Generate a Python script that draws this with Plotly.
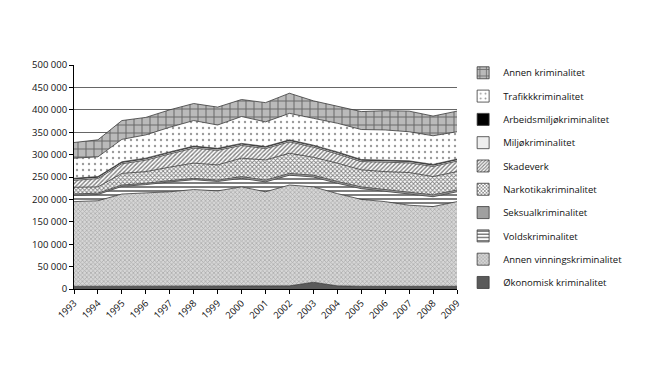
import plotly.graph_objects as go

years = list(range(1993, 2010))

okonomisk = [6000, 6000, 6000, 6000, 6000, 6000, 6000, 6000, 6000, 7000, 15000, 7000, 6000, 6000, 6000, 6000, 6000]
annen_vinning = [189000, 191000, 206000, 208000, 211000, 216000, 213000, 222000, 211000, 225000, 213000, 206000, 194000, 189000, 181000, 178000, 189000]
volds = [14000, 14000, 17000, 19000, 22000, 22000, 21000, 19000, 22000, 22000, 22000, 23000, 24000, 23000, 26000, 22000, 22000]
seksual = [3000, 3000, 3000, 3000, 3000, 3000, 3000, 4000, 4000, 4000, 4000, 4000, 4000, 4000, 4000, 4000, 4000]
narkotika = [15000, 14000, 26000, 26000, 30000, 34000, 34000, 41000, 45000, 45000, 40000, 41000, 38000, 40000, 43000, 41000, 41000]
skadeverk = [15500, 18500, 21500, 25500, 29500, 33500, 32500, 28500, 25500, 25500, 22500, 20500, 18500, 21500, 21500, 22500, 23500]
miljo = [3000, 3000, 3000, 3000, 3000, 3000, 3000, 3000, 3000, 3000, 3000, 3000, 3000, 3000, 3000, 3000, 3000]
arbeidsmiljo = [1500, 1500, 1500, 1500, 1500, 1500, 1500, 1500, 1500, 1500, 1500, 1500, 1500, 1500, 1500, 1500, 1500]
trafikk = [45000, 44000, 50000, 52000, 55000, 57000, 52000, 60000, 55000, 59000, 60000, 64000, 67000, 67000, 65000, 64000, 61000]
annen = [35000, 38000, 42000, 39000, 39000, 38000, 40000, 38000, 43000, 45000, 39000, 38000, 40000, 43000, 46000, 44000, 46000]

y_tickvals = [0, 50000, 100000, 150000, 200000, 250000, 300000, 350000, 400000, 450000, 500000]
y_ticktext = ["0", "50 000", "100 000", "150 000", "200 000", "250 000", "300 000", "350 000", "400 000", "450 000", "500 000"]

series = [
    ("Økonomisk kriminalitet", okonomisk, dict(shape="", bgcolor="#5a5a5a", fgcolor="#5a5a5a")),
    ("Annen vinningskriminalitet", annen_vinning, dict(shape="x", bgcolor="#d6d6d6", fgcolor="#7a7a7a", size=3, solidity=0.4)),
    ("Voldskriminalitet", volds, dict(shape="-", bgcolor="#ffffff", fgcolor="#000000", size=4, solidity=0.5)),
    ("Seksualkriminalitet", seksual, dict(shape="", bgcolor="#a0a0a0", fgcolor="#a0a0a0")),
    ("Narkotikakriminalitet", narkotika, dict(shape="x", bgcolor="#ffffff", fgcolor="#000000", size=3, solidity=0.5)),
    ("Skadeverk", skadeverk, dict(shape="/", bgcolor="#ffffff", fgcolor="#000000", size=3, solidity=0.45)),
    ("Miljøkriminalitet", miljo, dict(shape="", bgcolor="#eeeeee", fgcolor="#eeeeee")),
    ("Arbeidsmiljøkriminalitet", arbeidsmiljo, dict(shape="", bgcolor="#000000", fgcolor="#000000")),
    ("Trafikkkriminalitet", trafikk, dict(shape=".", bgcolor="#ffffff", fgcolor="#333333", size=6, solidity=0.12)),
    ("Annen kriminalitet", annen, dict(shape="+", bgcolor="#bababa", fgcolor="#1a1a1a", size=8, solidity=0.24)),
]

fig = go.Figure()
for name, vals, pat in series:
    fig.add_trace(go.Scatter(
        x=years, y=vals, name=name, mode="lines",
        stackgroup="one", showlegend=False,
        line=dict(color="#3a3a3a", width=0.8),
        fillcolor=pat["bgcolor"],
        fillpattern=dict(pat) if pat["shape"] else None,
    ))

# legend-only entries with square swatches, top of stack listed first
for name, vals, pat in reversed(series):
    marker = dict(color=pat["bgcolor"], line=dict(color="#3a3a3a", width=0.8))
    if pat["shape"]:
        marker["pattern"] = dict(pat)
    fig.add_trace(go.Bar(
        x=[None], y=[None], name=name, legendgroup=name,
        marker=marker, showlegend=True, hoverinfo="skip",
    ))

fig.update_layout(
    width=642, height=376,
    margin=dict(l=66, r=193, t=57, b=95, autoexpand=False),
    paper_bgcolor="white", plot_bgcolor="white",
    font=dict(family="Open Sans", size=9.5, color="#111111"),
    showlegend=True,
    legend=dict(
        x=1.016, y=1.03, xanchor="left", yanchor="top",
        traceorder="grouped", tracegroupgap=4.3, maxheight=400,
        font=dict(size=9.5), itemwidth=30,
        bgcolor="rgba(0,0,0,0)",
    ),
    xaxis=dict(
        range=[1993, 2009], tickvals=years, ticktext=[str(y) for y in years],
        tickangle=-45, showgrid=False, showline=True, linecolor="#000000",
        linewidth=1, ticks="outside", ticklen=4, tickcolor="#000000",
        tickfont=dict(size=9.5),
    ),
    yaxis=dict(
        range=[0, 500000], tickvals=y_tickvals, ticktext=y_ticktext,
        showgrid=True, gridcolor="#666666", gridwidth=1,
        showline=True, linecolor="#000000", linewidth=1,
        ticks="outside", ticklen=4, tickcolor="#000000",
        tickfont=dict(size=9.5), zeroline=False,
    ),
)

fig.write_html("out.html")
